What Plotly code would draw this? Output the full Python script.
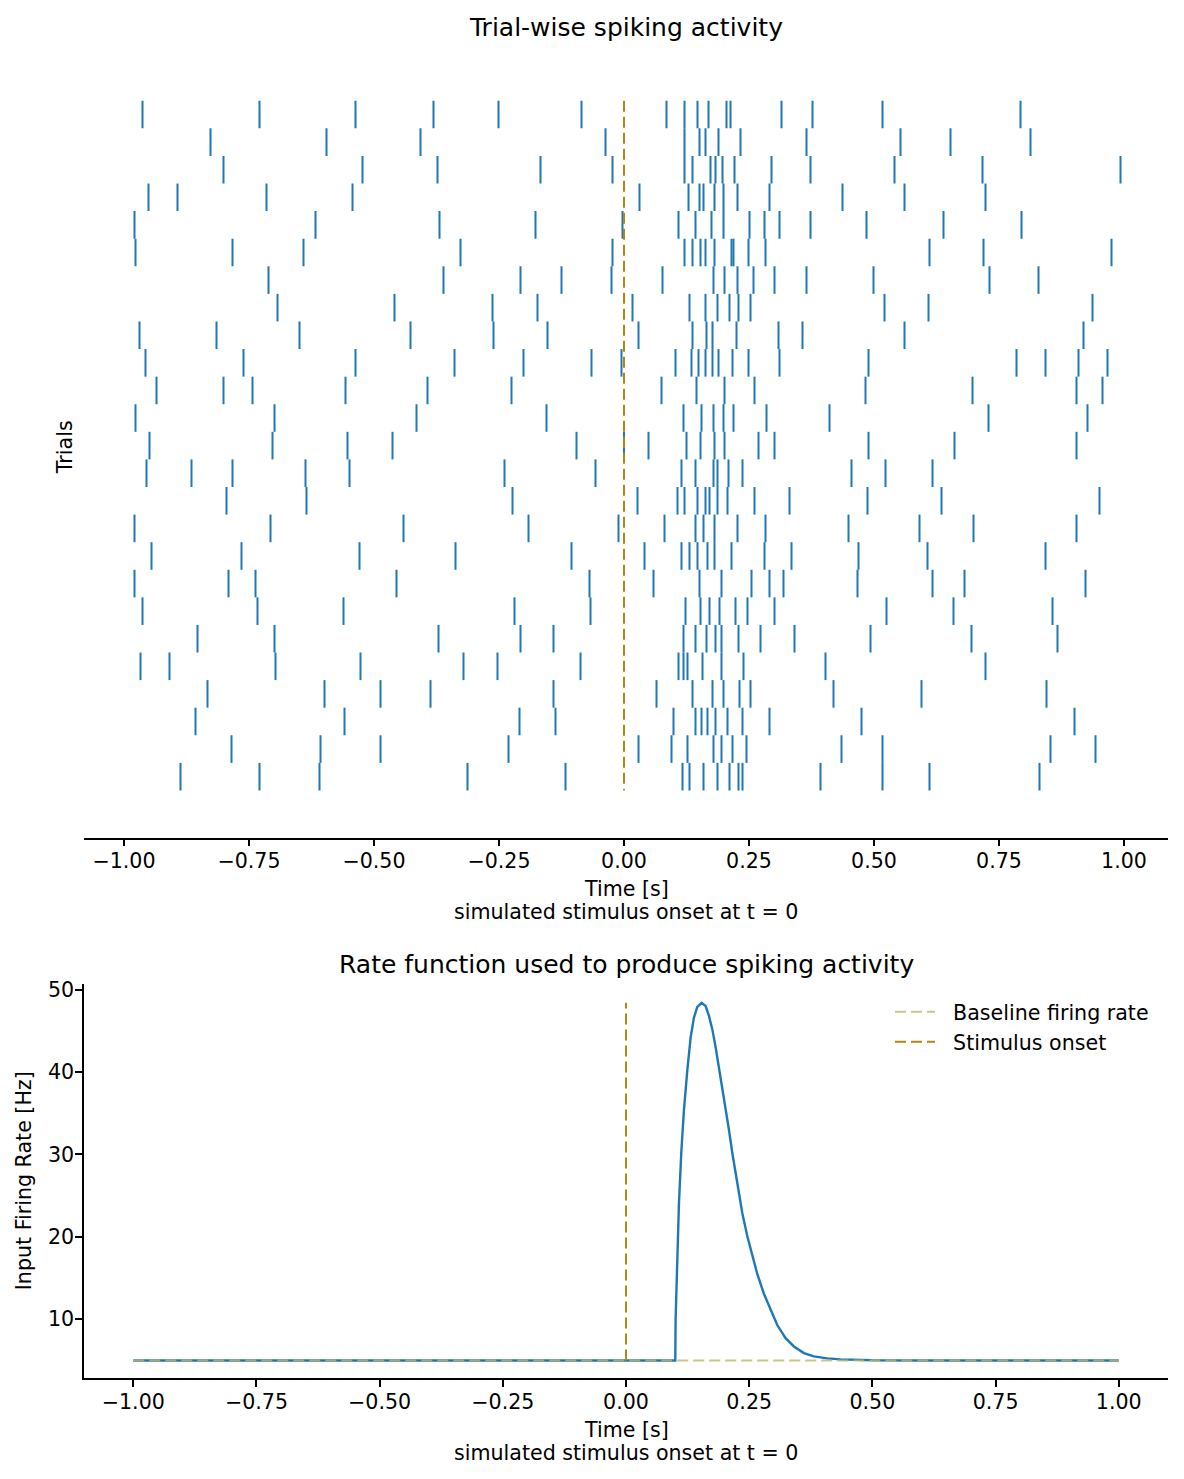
import plotly.graph_objects as go

# ---------------- data: spike times per trial (s), top row first ----------------
trial_01 = [-0.963, -0.729, -0.537, -0.381, -0.251, -0.085, 0.085, 0.121, 0.147, 0.169, 0.205, 0.213, 0.315, 0.377, 0.517, 0.793]
trial_02 = [-0.827, -0.595, -0.407, -0.037, 0.121, 0.151, 0.163, 0.189, 0.233, 0.365, 0.553, 0.653, 0.813]
trial_03 = [-0.801, -0.523, -0.373, -0.167, -0.023, 0.121, 0.137, 0.173, 0.183, 0.197, 0.221, 0.295, 0.373, 0.541, 0.717, 0.993]
trial_04 = [-0.951, -0.893, -0.715, -0.543, 0.031, 0.129, 0.151, 0.159, 0.181, 0.199, 0.227, 0.291, 0.437, 0.561, 0.723]
trial_05 = [-0.979, -0.617, -0.369, -0.177, -0.003, 0.109, 0.143, 0.175, 0.199, 0.251, 0.281, 0.311, 0.373, 0.485, 0.639, 0.795]
trial_06 = [-0.977, -0.783, -0.641, -0.327, -0.023, 0.121, 0.137, 0.153, 0.163, 0.181, 0.215, 0.219, 0.249, 0.283, 0.611, 0.719, 0.975]
trial_07 = [-0.711, -0.361, -0.207, -0.125, -0.025, 0.077, 0.179, 0.201, 0.227, 0.259, 0.301, 0.365, 0.499, 0.731, 0.829]
trial_08 = [-0.693, -0.459, -0.263, -0.173, 0.017, 0.131, 0.163, 0.187, 0.211, 0.229, 0.253, 0.521, 0.609, 0.937]
trial_09 = [-0.969, -0.815, -0.649, -0.427, -0.261, -0.153, 0.029, 0.137, 0.165, 0.177, 0.225, 0.309, 0.357, 0.561, 0.919]
trial_10 = [-0.957, -0.761, -0.537, -0.339, -0.201, -0.065, -0.005, 0.103, 0.135, 0.149, 0.163, 0.177, 0.189, 0.217, 0.249, 0.311, 0.489, 0.785, 0.843, 0.909, 0.967]
trial_11 = [-0.935, -0.801, -0.743, -0.557, -0.393, -0.225, 0.075, 0.145, 0.201, 0.261, 0.483, 0.697, 0.905, 0.957]
trial_12 = [-0.977, -0.699, -0.415, -0.155, 0.119, 0.155, 0.179, 0.199, 0.219, 0.285, 0.411, 0.729, 0.927]
trial_13 = [-0.949, -0.703, -0.553, -0.463, -0.095, 0.000, 0.049, 0.125, 0.153, 0.181, 0.201, 0.269, 0.301, 0.489, 0.661, 0.905]
trial_14 = [-0.955, -0.865, -0.783, -0.637, -0.549, -0.239, -0.057, 0.115, 0.143, 0.179, 0.187, 0.209, 0.237, 0.455, 0.523, 0.617]
trial_15 = [-0.795, -0.635, -0.223, 0.027, 0.107, 0.121, 0.147, 0.163, 0.171, 0.187, 0.207, 0.261, 0.331, 0.487, 0.635, 0.951]
trial_16 = [-0.979, -0.707, -0.441, -0.191, -0.011, 0.081, 0.143, 0.159, 0.181, 0.227, 0.283, 0.449, 0.591, 0.699, 0.905]
trial_17 = [-0.945, -0.765, -0.529, -0.337, -0.105, 0.041, 0.115, 0.131, 0.147, 0.167, 0.181, 0.215, 0.281, 0.335, 0.469, 0.607, 0.843]
trial_18 = [-0.979, -0.791, -0.737, -0.455, -0.069, 0.059, 0.151, 0.195, 0.255, 0.291, 0.319, 0.467, 0.617, 0.681, 0.923]
trial_19 = [-0.963, -0.733, -0.561, -0.219, -0.067, 0.123, 0.153, 0.171, 0.191, 0.223, 0.247, 0.301, 0.525, 0.659, 0.857]
trial_20 = [-0.853, -0.699, -0.371, -0.207, -0.141, 0.119, 0.143, 0.165, 0.183, 0.195, 0.229, 0.273, 0.341, 0.493, 0.695, 0.867]
trial_21 = [-0.967, -0.909, -0.697, -0.527, -0.321, -0.253, -0.087, 0.109, 0.119, 0.127, 0.157, 0.195, 0.239, 0.403, 0.723]
trial_22 = [-0.833, -0.599, -0.487, -0.387, -0.141, 0.065, 0.137, 0.177, 0.199, 0.231, 0.253, 0.419, 0.595, 0.845]
trial_23 = [-0.857, -0.559, -0.209, -0.137, 0.099, 0.143, 0.155, 0.167, 0.183, 0.207, 0.237, 0.291, 0.475, 0.901]
trial_24 = [-0.785, -0.607, -0.487, -0.231, 0.029, 0.095, 0.127, 0.179, 0.195, 0.217, 0.245, 0.435, 0.517, 0.853, 0.943]
trial_25 = [-0.887, -0.729, -0.609, -0.313, -0.117, 0.117, 0.131, 0.159, 0.187, 0.211, 0.229, 0.237, 0.393, 0.517, 0.611, 0.831]

trials = [trial_01, trial_02, trial_03, trial_04, trial_05, trial_06, trial_07, trial_08,
          trial_09, trial_10, trial_11, trial_12, trial_13, trial_14, trial_15, trial_16,
          trial_17, trial_18, trial_19, trial_20, trial_21, trial_22, trial_23, trial_24, trial_25]

# ---------------- data: rate function ----------------
rate_t = [-1.0, 0.100, 0.1007, 0.1041, 0.1075, 0.1122, 0.1176, 0.1244, 0.1312, 0.1379, 0.1447,
          0.1535, 0.1616, 0.1684, 0.1751, 0.1819, 0.1886, 0.1954, 0.2022, 0.2089, 0.2157,
          0.2225, 0.2292, 0.2360, 0.2461, 0.2563, 0.2664, 0.2799, 0.2934, 0.3070, 0.3239,
          0.3408, 0.3611, 0.3813, 0.4083, 0.4355, 0.500, 0.600, 1.0]
rate_hz = [5.0, 5.0, 10.1, 18.1, 24.1, 30.2, 35.4, 40.2, 44.2, 46.6, 47.9,
           48.4, 48.0, 46.8, 45.2, 43.0, 40.6, 38.2, 35.6, 33.0, 30.2,
           27.6, 25.1, 22.9, 20.1, 17.7, 15.5, 13.1, 11.1, 9.3, 7.7,
           6.7, 5.9, 5.5, 5.26, 5.14, 5.03, 5.0, 5.0]
baseline_rate = 5.0
stim_onset = 0.0
time_window = [-1.0, 1.0]

x_ticks = [-1.0, -0.75, -0.5, -0.25, 0.0, 0.25, 0.5, 0.75, 1.0]
x_tick_labels = ["\u22121.00", "\u22120.75", "\u22120.50", "\u22120.25", "0.00", "0.25", "0.50", "0.75", "1.00"]
rate_ticks = [10, 20, 30, 40, 50]
legend_names = ["Baseline firing rate", "Stimulus onset"]

# ---------------- styling ----------------
W, H = 1184, 1479
BLUE = "#1f77b4"
GOLD = "#b8860b"
KHAKI = "rgba(189,183,107,0.8)"
FONT = "DejaVu Sans"
FS = 20.6    # tick / label font size (px)
FS_T = 25    # title font size (px)
PAD = "\u00a0\u00a0"   # gap between legend line sample and its label

def px_x(p):
    return p / W

def px_y(p):
    return 1 - p / H

fig = go.Figure()

# raster: each spike a vertical segment of length 1 centered on its trial row
sx, sy = [], []
for k, spikes in enumerate(trials):
    for t in spikes:
        sx += [t, t, None]
        sy += [k - 0.5, k + 0.5, None]
fig.add_trace(go.Scatter(x=sx, y=sy, mode="lines", line=dict(color=BLUE, width=2),
                         showlegend=False, hoverinfo="skip", xaxis="x", yaxis="y"))
# stimulus onset in raster
fig.add_trace(go.Scatter(x=[stim_onset, stim_onset], y=[-0.5, len(trials) - 0.5], mode="lines",
                         line=dict(color=GOLD, width=2, dash="11px,5px"),
                         showlegend=False, hoverinfo="skip", xaxis="x", yaxis="y"))

# rate function
fig.add_trace(go.Scatter(x=rate_t, y=rate_hz, mode="lines", line=dict(color=BLUE, width=2.4),
                         showlegend=False, xaxis="x2", yaxis="y2"))
fig.add_trace(go.Scatter(x=time_window, y=[baseline_rate, baseline_rate], mode="lines",
                         line=dict(color=KHAKI, width=2, dash="11px,5px"),
                         name=PAD + legend_names[0], legendgroup="a", xaxis="x2", yaxis="y2"))
fig.add_trace(go.Scatter(x=[stim_onset, stim_onset], y=[baseline_rate, max(rate_hz)], mode="lines",
                         line=dict(color=GOLD, width=2, dash="11px,5px"),
                         name=PAD + legend_names[1], legendgroup="b", xaxis="x2", yaxis="y2"))

row_px = 27.7
first_row_px = 109.0
top_px, bot_px = 60.0, 835.0
y_top = (top_px - first_row_px) / row_px
y_bot = (bot_px - first_row_px) / row_px

axis_common = dict(showgrid=False, zeroline=False, ticks="outside", ticklen=7, tickwidth=1.5,
                   tickcolor="black", linecolor="black", linewidth=1.5, ticklabelstandoff=-3,
                   tickfont=dict(family=FONT, size=FS, color="black"))

fig.update_layout(
    width=W, height=H,
    margin=dict(l=0, r=0, t=0, b=0),
    paper_bgcolor="white", plot_bgcolor="white",
    font=dict(family=FONT, size=FS, color="black"),
    xaxis=dict(domain=[px_x(84), px_x(1168)], range=[-1.08, 1.088], anchor="y",
               tickvals=x_ticks, ticktext=x_tick_labels, showline=True, **axis_common),
    yaxis=dict(domain=[px_y(bot_px), px_y(top_px)], range=[y_bot, y_top], anchor="x",
               showline=False, showticklabels=False, ticks="", showgrid=False, zeroline=False),
    xaxis2=dict(domain=[px_x(84), px_x(1168)], range=[-1.1, 1.1], anchor="y2",
                tickvals=x_ticks, ticktext=x_tick_labels, showline=True, **axis_common),
    yaxis2=dict(domain=[px_y(1378), px_y(982)], range=[2.825, 50.675], anchor="x2",
                tickvals=rate_ticks, showline=True, **axis_common),
    legend=dict(x=px_x(890), y=px_y(990), xanchor="left", yanchor="top",
                bgcolor="rgba(0,0,0,0)", borderwidth=0, tracegroupgap=0, itemwidth=40,
                font=dict(family=FONT, size=FS, color="black")),
    showlegend=True,
)

ann = [
    dict(text="Trial-wise spiking activity", x=px_x(626), y=px_y(22), size=FS_T, angle=0),
    dict(text="Time [s]", x=px_x(626), y=px_y(887), size=FS, angle=0),
    dict(text="simulated stimulus onset at t = 0", x=px_x(626), y=px_y(910), size=FS, angle=0),
    dict(text="Trials", x=px_x(65), y=px_y(443), size=FS, angle=-90),
    dict(text="Rate function used to produce spiking activity", x=px_x(626), y=px_y(962), size=FS_T, angle=0),
    dict(text="Time [s]", x=px_x(626), y=px_y(1430), size=FS, angle=0),
    dict(text="simulated stimulus onset at t = 0", x=px_x(626), y=px_y(1453), size=FS, angle=0),
    dict(text="Input Firing Rate [Hz]", x=px_x(24), y=px_y(1180), size=FS, angle=-90),
]
for a in ann:
    fig.add_annotation(text=a["text"], x=a["x"], y=a["y"], xref="paper", yref="paper",
                       xanchor="center", yanchor="middle", showarrow=False, textangle=a["angle"],
                       font=dict(family=FONT, size=a["size"], color="black"))

fig.write_html("out.html")
